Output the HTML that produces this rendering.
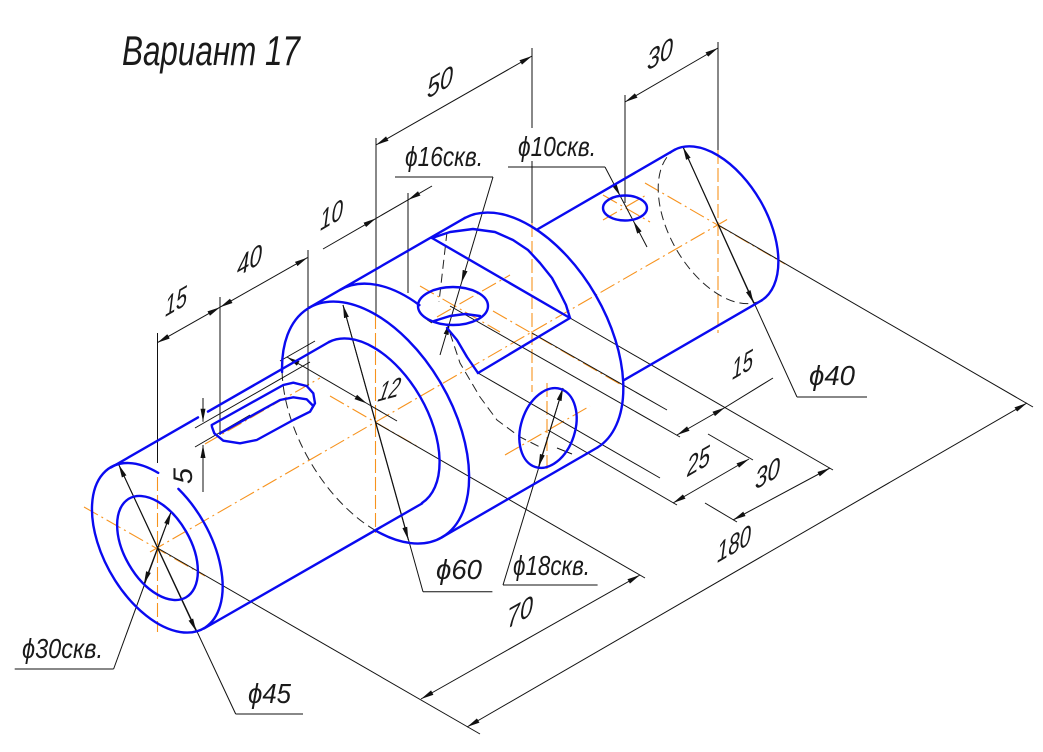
<!DOCTYPE html>
<html><head><meta charset="utf-8"><style>
html,body{margin:0;padding:0;background:#fff;}
svg{display:block;}
</style></head><body>
<svg width="1043" height="752" viewBox="0 0 1043 752" xmlns="http://www.w3.org/2000/svg">
<defs>
<marker id="a" markerUnits="userSpaceOnUse" markerWidth="14" markerHeight="7" refX="13" refY="3.5" orient="auto-start-reverse"><path d="M0,1 L13,3.5 L0,6 Z" fill="#111"/></marker>
</defs>
<rect width="1043" height="752" fill="#fff"/>

<!-- orange centre lines -->
<g stroke="#f7931e" stroke-width="1.1" fill="none" stroke-dasharray="16 4 2 4">
<path d="M150,552 L728,219"/>
<path d="M84,507 L205,576"/>
<path d="M330,396 L420,448"/>
<path d="M493,311 L625,387"/>
<path d="M645,183 L785,264"/>
<path d="M420,286 L500,332"/>
<path d="M437,317 L510,275"/>
<path d="M603,195 L650,222"/>
<path d="M603,220 L648,194"/>
<path d="M505,455 L590,406"/>
<path d="M205,444 L320,378"/>
</g>
<g stroke="#f7931e" stroke-width="1.1" fill="none" stroke-dasharray="14 4">
<path d="M157.5,477 V632"/>
<path d="M375.5,315 V533"/>
<path d="M532,223 V392"/>
<path d="M718,150 V333"/>
<path d="M547,383 V470"/>
</g>

<!-- hidden lines -->
<g stroke="#222" stroke-width="1" fill="none" stroke-dasharray="9 5">
<path d="M375.7,530.6 A132.6,76.2 60 0 1 282.1,372.1"/>
<path d="M761.8,300.3 A87,50 60 0 1 674.8,149.7"/>
<path d="M447,232 L439,302"/>
<polyline points="450,333 460,363 480,397 497,420 520,437 540,447"/>
</g>

<!-- thin black lines -->
<g stroke="#111" stroke-width="1" fill="none">
<path d="M157.5,333 V463"/>
<path d="M220,297 V435"/>
<path d="M308,250 V388"/>
<path d="M376,138 V315"/>
<path d="M408,193 V293"/>
<path d="M532,48 V128"/>
<path d="M532,161 V223"/>
<path d="M625,95 V203"/>
<path d="M718,42 V150"/>
<path d="M157.5,548 L480,734"/>
<path d="M375.5,422.5 L645,578"/>
<path d="M718.3,225 L1033,407"/>
<path d="M450,306 L680,437"/>
<path d="M570,318 L833,470"/>
<path d="M532,333 L667,410"/>
<path d="M708,434 L753,460"/>
<path d="M478,373 L660,478"/>
<path d="M705,503 L737,522"/>
<path d="M548,430 L677,505"/>
<path d="M557,448 L572,454"/>
<path d="M195,428 L310,362"/>
<path d="M195,447 L250,415"/>
<path d="M280,361 L315,341"/>
<path d="M418,308 Q423,318 432,323"/>
<path d="M395,177 H493"/>
<path d="M508,167 H605"/>
<path d="M797,397 H867"/>
<path d="M423,591.7 H492.4"/>
<path d="M503,585 H597.6"/>
<path d="M14.7,669 H113.6"/>
<path d="M235.7,714 H303"/>
<path d="M235.7,714 L118.7,464.6"/>
<path d="M113.6,669 L171.1,511.8"/>
<path d="M423,591.7 L343,305"/>
<path d="M503,585 L563,388"/>
<path d="M797,397 L683,147"/>
<path d="M461.4,283 L449.8,322"/>
<path d="M620.2,196 L633.4,221"/>
<path d="M376,218.4 L408,199.9"/>
<path d="M367,403.5 L397,421"/>
<path d="M725,407.5 L773,378"/>
</g>

<!-- lines with arrowheads -->
<g stroke="#111" stroke-width="1" fill="none">
<path d="M157.3,342.7 L220,307.2" marker-start="url(#a)" marker-end="url(#a)"/>
<path d="M220,307.2 L307.5,257.6" marker-start="url(#a)" marker-end="url(#a)"/>
<path d="M323,249 L376,218.4" marker-end="url(#a)"/>
<path d="M432,186 L408,199.9" marker-end="url(#a)"/>
<path d="M376,145 L532,56" marker-start="url(#a)" marker-end="url(#a)"/>
<path d="M625,102 L718,48" marker-start="url(#a)" marker-end="url(#a)"/>
<path d="M287,357 L367,403.5" marker-start="url(#a)" marker-end="url(#a)"/>
<path d="M203,398 L203,421.7" marker-end="url(#a)"/>
<path d="M203,492 L203,445" marker-end="url(#a)"/>
<path d="M677,435 L725,407.5" marker-start="url(#a)" marker-end="url(#a)"/>
<path d="M673,503 L749,459" marker-start="url(#a)" marker-end="url(#a)"/>
<path d="M733,520 L830,468" marker-start="url(#a)" marker-end="url(#a)"/>
<path d="M421,699 L640,575" marker-start="url(#a)" marker-end="url(#a)"/>
<path d="M467,727 L1027,403" marker-start="url(#a)" marker-end="url(#a)"/>
<path d="M157.5,548 L118.7,464.6" marker-end="url(#a)"/>
<path d="M157.5,548 L196.3,631.4" marker-end="url(#a)"/>
<path d="M157.5,548 L171.1,511.8" marker-end="url(#a)"/>
<path d="M157.5,548 L143.9,584.2" marker-end="url(#a)"/>
<path d="M375.5,422.5 L343,305" marker-end="url(#a)"/>
<path d="M375.5,422.5 L408.3,539.9" marker-end="url(#a)"/>
<path d="M550.8,427.5 L563,388" marker-end="url(#a)"/>
<path d="M550.8,427.5 L538.5,467" marker-end="url(#a)"/>
<path d="M718.3,225 L683,147" marker-end="url(#a)"/>
<path d="M718.3,225 L753.6,303" marker-end="url(#a)"/>
<path d="M493,177 L461.4,283" marker-end="url(#a)"/>
<path d="M440,355 L449.8,322" marker-end="url(#a)"/>
<path d="M605,167 L620.2,196" marker-end="url(#a)"/>
<path d="M647,247 L633.4,221" marker-end="url(#a)"/>
</g>

<!-- visible contours (blue) -->
<g stroke="#0a0af0" stroke-width="2.4" fill="none" stroke-linejoin="round" stroke-linecap="round">
<path d="M178.4,488.9 A93,53 60 1 1 158.2,472.9"/>
<ellipse cx="157.5" cy="548" rx="57" ry="33" transform="rotate(60 157.5 548)"/>
<path d="M111,467.5 L198,417.4"/>
<path d="M208,411.6 L329,342"/>
<path d="M204,628.5 L422,503.5"/>
<path d="M329,342 A93,53 60 0 1 422,503"/>
<path d="M282.1,372.1 A132.6,76.2 60 1 1 375.7,530.6"/>
<path d="M309.2,307.7 L464.9,217.9"/>
<path d="M340.3,289.8 A132.6,76.2 60 0 1 419.4,305.1"/>
<path d="M464.9,217.9 A132.6,76.2 60 0 1 597.5,447.5"/>
<path d="M441.8,537.3 L597.5,447.5"/>
<path d="M538,229 L674.8,149.7"/>
<path d="M624.3,379.9 L761.8,300.3"/>
<path d="M674.8,149.7 A87,50 60 0 1 761.8,300.3"/>
<polyline points="432,238 450,232 473,229 495,232 513,240 528,250 540,263 552,278 560,293 566,305 570,318"/>
<path d="M432,238 L570,318 L478,373"/>
<polyline points="478,373 467,357 457,340 447,328"/>
<ellipse cx="453" cy="306" rx="35" ry="19"/>
<polyline points="434,321 450,316 465,314 480,316"/>
<ellipse cx="625" cy="208" rx="22" ry="12.5"/>
<ellipse cx="548" cy="428" rx="41" ry="27" transform="rotate(-72 548 428)"/>
<path d="M211.7,425 L283.3,385 L293.3,382.7 L306.7,386 L313.3,393.3 L315,403.3 L310,411.7 L293.3,420 L256.7,440 L240,443.3 L223.3,440.7 L214.3,433.3 L212,427 Z"/>
<polyline points="220,433.3 280,400 293.3,397.3 306.7,399.3 313.3,406"/>
</g>

<!-- text -->
<g font-family="'Liberation Sans', 'DejaVu Sans', sans-serif" font-style="italic" fill="#1a1a1a">
<text x="122" y="65" font-size="42" textLength="178" lengthAdjust="spacingAndGlyphs">Вариант 17</text>

<text transform="translate(165,317) skewY(-30)" font-size="28" textLength="22" lengthAdjust="spacingAndGlyphs">15</text>
<text transform="translate(237,277) skewY(-30)" font-size="28" textLength="25" lengthAdjust="spacingAndGlyphs">40</text>
<text transform="translate(320,231) skewY(-30)" font-size="28" textLength="23" lengthAdjust="spacingAndGlyphs">10</text>
<text transform="translate(427,99) skewY(-30)" font-size="28" textLength="26" lengthAdjust="spacingAndGlyphs">50</text>
<text transform="translate(647,71) skewY(-30)" font-size="28" textLength="26" lengthAdjust="spacingAndGlyphs">30</text>
<text transform="translate(732,380) skewY(-30)" font-size="28" textLength="21" lengthAdjust="spacingAndGlyphs">15</text>
<text transform="translate(687,477) skewY(-30)" font-size="28" textLength="23" lengthAdjust="spacingAndGlyphs">25</text>
<text transform="translate(755,490) skewY(-30)" font-size="28" textLength="25" lengthAdjust="spacingAndGlyphs">30</text>
<text transform="translate(717,563) skewY(-30)" font-size="28" textLength="34" lengthAdjust="spacingAndGlyphs">180</text>
<text transform="translate(507,629) skewY(-30)" font-size="28" textLength="26" lengthAdjust="spacingAndGlyphs">70</text>
<text transform="translate(376,402) skewY(-15) skewX(-20)" font-size="26" font-style="normal" textLength="21" lengthAdjust="spacingAndGlyphs">12</text>
<text transform="translate(192,484) rotate(-90)" font-size="27" textLength="16" lengthAdjust="spacingAndGlyphs">5</text>

<text x="405" y="166" font-size="28" textLength="78" lengthAdjust="spacingAndGlyphs">ϕ16скв.</text>
<text x="518" y="156" font-size="28" textLength="78" lengthAdjust="spacingAndGlyphs">ϕ10скв.</text>
<text x="809" y="385" font-size="28" textLength="46" lengthAdjust="spacingAndGlyphs">ϕ40</text>
<text x="436" y="579" font-size="28" textLength="46" lengthAdjust="spacingAndGlyphs">ϕ60</text>
<text x="513" y="575" font-size="28" textLength="77" lengthAdjust="spacingAndGlyphs">ϕ18скв.</text>
<text x="22" y="658" font-size="28" textLength="81" lengthAdjust="spacingAndGlyphs">ϕ30скв.</text>
<text x="248" y="703" font-size="28" textLength="43" lengthAdjust="spacingAndGlyphs">ϕ45</text>
</g>
</svg>
</body></html>
